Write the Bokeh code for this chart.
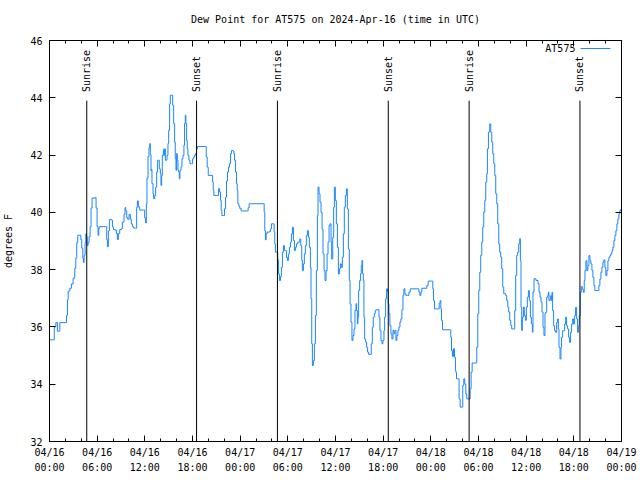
import math
from bokeh.plotting import figure
from bokeh.models import (FixedTicker, LinearAxis, Range1d, Label, Arrow, ColumnDataSource,
                          CustomLabelingPolicy)
from bokeh.core.properties import value
from bokeh.embed import file_html
from bokeh.resources import INLINE

# ---- data (hours since 2024-04-16 00:00 UTC, dew point in F) ----
hours = [
    0.04, 0.54, 0.6, 0.8, 1.0, 1.3, 2.05, 2.14, 2.26, 2.35, 2.56, 2.76, 2.97, 3.18, 3.31, 3.43, 3.56, 3.81,
    3.94, 4.06, 4.19, 4.27, 4.36, 4.48, 4.57, 4.65, 4.73, 4.86, 4.98, 5.11, 5.23, 5.36, 5.78, 5.86, 5.99,
    6.11, 6.2, 6.32, 7.08, 7.2, 7.29, 7.41, 7.54, 7.79, 7.92, 8.04, 8.25, 8.42, 8.54, 8.67, 8.84, 9.05,
    9.17, 9.38, 9.51, 9.59, 9.72, 9.84, 10.01, 10.18, 10.3, 10.43, 10.6, 10.85, 10.97, 11.06, 11.18,
    11.35, 11.85, 11.98, 12.1, 12.19, 12.27, 12.4, 12.52, 12.61, 12.69, 12.78,
    12.82, 12.9, 13.03, 13.11, 13.24, 13.36, 13.49, 13.61, 13.74, 13.82, 13.95, 14.03, 14.12, 14.2, 14.33,
    14.41, 14.49, 14.58, 14.7, 14.79, 14.91, 15.0, 15.12, 15.21, 15.42, 15.5, 15.63, 15.75, 15.83, 15.92,
    16.0, 16.09, 16.17, 16.25, 16.34, 16.42, 16.55, 16.67, 16.8, 16.92, 17.0, 17.09, 17.17, 17.26, 17.34,
    17.42, 17.55, 17.68, 17.89, 18.01, 18.14, 18.26, 18.39, 18.51, 18.64, 19.65, 19.73, 19.85, 19.98,
    20.44, 20.53, 20.61, 20.69, 21.2, 21.28, 21.41, 21.53, 21.61, 21.7, 21.91, 22.03, 22.16, 22.28, 22.41,
    22.53, 22.66, 22.79, 22.91, 23.08, 23.21, 23.29, 23.42, 23.54, 23.63, 23.71, 23.84, 23.96, 24.13,
    24.88, 25.0, 25.13,
    25.38, 26.93, 27.02, 27.1, 27.18, 27.27, 27.39, 27.69, 27.81, 27.94, 28.19, 28.27, 28.36, 28.44, 28.65,
    28.73, 28.82, 28.94, 29.07, 29.19, 29.32, 29.45, 29.57, 29.7, 29.82, 29.95, 30.07, 30.2, 30.33, 30.45,
    30.58, 30.7, 30.83, 30.95, 31.08, 31.25, 31.37, 31.5, 31.63, 31.75, 31.83, 31.96, 32.08, 32.21, 32.33,
    32.46, 32.59, 32.71, 32.84, 32.92, 33.01, 33.09, 33.22, 33.34, 33.47, 33.59, 33.72, 33.8, 33.93, 34.05,
    34.18, 34.31, 34.43, 34.56, 34.68, 34.81, 34.94, 35.06, 35.19, 35.31, 35.44, 35.52, 35.65, 35.77,
    35.86, 35.98, 36.11, 36.24, 36.36, 36.49, 36.61, 36.74, 36.86, 36.99, 37.11, 37.24, 37.37, 37.49,
    37.62, 37.74, 37.83,
    37.95, 38.07, 38.2, 38.33, 38.45, 38.58, 38.66, 38.75, 38.83, 38.91, 39.04, 39.16, 39.25, 39.33, 39.41,
    39.5, 39.58, 39.67, 39.79, 39.92, 40.04, 40.17, 40.38, 40.5, 40.63, 40.75, 40.88, 41.0, 41.13, 41.34,
    41.47, 41.59, 41.72, 41.85, 41.97, 42.1, 42.18, 42.31, 42.43, 42.56, 42.64, 42.73, 42.85, 42.98, 43.1,
    43.23, 43.35, 43.48, 43.61, 43.73, 43.86, 43.98, 44.11, 44.23, 44.36, 44.49, 44.61, 44.74, 44.86,
    45.07, 45.24, 45.41, 46.37, 46.5, 46.62, 46.75, 46.87, 47.37, 47.5, 47.67, 48.13, 48.25, 48.34, 48.46,
    48.92, 49.05, 49.17, 49.26, 49.34, 49.47, 50.43, 50.51, 50.6, 50.72, 50.85, 50.98, 51.1,
    51.14, 51.23, 51.48, 51.56, 51.69, 51.94, 52.02, 52.15, 52.27, 52.4, 52.52, 52.82, 52.95, 53.07, 53.2,
    53.7, 53.78, 53.91, 54.03, 54.16, 54.28, 54.41, 54.53, 54.66, 54.79, 54.91, 55.04, 55.12, 55.25, 55.42,
    55.54, 55.67, 55.79, 55.92, 56.05, 56.17, 56.3, 56.42, 56.55, 56.67, 56.8, 56.92, 57.05, 57.18, 57.3,
    57.43, 57.55, 57.68, 57.8, 57.93, 58.06, 58.18, 58.43, 58.56, 58.68, 58.81, 58.93, 59.06, 59.19, 59.27,
    59.35, 59.44, 59.52, 59.65, 59.77, 59.9, 60.02, 60.15, 60.28, 60.4, 60.53, 60.65, 60.78, 60.86, 60.99,
    61.11, 61.24, 61.36, 61.49, 61.62, 61.74, 61.87, 61.99, 62.12, 62.24, 62.37,
    62.45, 62.58, 62.7, 62.79, 62.87, 63.0, 63.08, 63.17, 63.25, 63.33, 63.46, 63.58, 63.71, 63.84, 63.96,
    64.05, 64.13, 64.26, 64.38, 64.46, 64.59, 64.71, 64.84, 64.97, 65.09, 65.22, 65.34, 65.47, 65.59,
    65.72, 65.85, 65.97, 66.1, 66.22, 66.35, 66.47, 66.6, 66.68, 66.81, 66.94, 67.06, 67.19, 67.31, 67.4,
    67.52, 67.65, 67.77, 67.9, 68.03, 68.15, 68.28, 68.4, 68.53, 68.65, 69.03, 69.15, 69.28, 69.41, 69.53,
    69.66, 69.78, 69.91, 70.03, 70.16, 70.29, 70.41, 70.54, 70.66, 70.79, 70.91, 71.04, 71.17, 71.29,
    71.42, 71.54, 71.67, 71.79, 71.92,
]
dewpoint = [
    35.55, 35.55, 36.0, 36.15, 35.85, 36.15, 36.15, 36.4, 36.95, 37.25, 37.35, 37.5, 37.7, 38.05, 38.4, 38.95, 39.2, 39.2,
    39.05, 38.75, 38.4, 38.25, 38.5, 38.95, 39.25, 39.15, 38.85, 38.95, 39.15, 39.5, 40.15, 40.5, 40.52, 40.15, 39.5,
    39.2, 39.45, 39.5, 39.5, 39.05, 38.8, 39.35, 39.75, 39.73, 39.5, 39.4, 39.38, 39.26, 39.05, 39.26, 39.4, 39.43,
    39.66, 39.93, 40.17, 40.05, 39.82, 39.76, 39.93, 39.76, 39.6, 39.5, 39.45, 39.45, 40.17, 40.4, 40.19,
    40.08, 40.08, 39.8, 39.63, 40.3, 41.2, 41.95, 42.25, 42.4, 42.02, 41.45,
    41.5, 41.0, 40.65, 40.48, 40.59, 40.88, 41.41, 41.82, 41.82, 41.52, 41.35, 40.94, 41.29, 41.99, 42.19,
    41.99, 42.22, 41.82, 41.82, 41.99, 42.4, 42.86, 43.79, 44.09, 44.09, 43.74, 43.1, 42.46, 41.87, 41.47,
    42.05, 41.82, 41.47, 41.41, 41.17, 41.47, 41.58, 41.87, 41.99, 42.34, 43.1, 43.39, 43.1, 42.51, 42.22,
    41.99, 41.82, 41.7, 41.7, 41.87, 41.93, 41.99, 42.05, 42.22, 42.3, 42.3, 41.93, 41.58, 41.29,
    41.29, 41.06, 40.77, 40.59, 40.59, 40.83, 40.71, 40.42, 40.07, 39.89, 39.89, 40.13, 40.53, 41.09, 41.41,
    41.58, 41.7, 42.05, 42.16, 42.14, 42.05, 41.82, 41.41, 41.0, 40.77, 40.3, 40.21, 40.13, 40.05,
    40.05, 40.16, 40.3,
    40.3, 40.3, 40.0, 39.36, 39.04, 39.25, 39.31, 39.33, 39.42, 39.6, 39.6, 39.31, 38.9, 38.61, 38.61,
    38.34, 37.85, 37.62, 37.76, 38.08, 38.61, 38.84, 38.67, 38.67, 38.43, 38.32, 38.55, 38.78, 38.96, 39.25,
    39.48, 39.02, 38.67, 38.78, 38.9, 38.96, 38.96, 39.07, 38.84, 38.32, 37.97, 38.2, 38.55, 38.84, 39.19,
    39.36, 39.13, 38.78, 38.08, 36.98, 35.41, 34.65, 34.82, 35.41, 36.4, 37.97, 39.89, 40.88, 40.65, 40.35,
    40.0, 39.42, 38.55, 37.97, 37.62, 37.97, 38.55, 38.96, 39.54, 39.6, 38.96, 38.37, 39.13, 40.18,
    40.88, 40.41, 39.6, 38.78, 37.85, 38.03, 38.2, 38.08, 38.43, 39.25, 40.18, 40.59, 40.82, 40.12,
    38.72, 37.62, 36.8,
    36.17, 35.53, 35.7, 35.93, 36.57, 36.81, 36.57, 36.11, 36.34, 37.27, 37.62, 37.86, 38.15, 38.32, 37.86,
    37.62, 36.34, 35.58, 35.47, 35.29, 35.12, 35.04, 35.04, 35.41, 35.99, 36.34, 36.46, 36.57, 36.6, 36.6,
    36.34, 35.88, 35.53, 35.41, 35.53, 35.88, 36.34, 36.98, 37.33, 37.22, 36.81, 36.46, 36.05, 35.76, 35.58,
    35.88, 35.76, 35.88, 35.53, 35.7, 35.88, 35.99, 36.17, 36.28, 36.6, 37.1, 37.33, 37.16, 37.1,
    37.1, 37.22, 37.33, 37.33, 37.22, 37.1, 37.22, 37.35, 37.35, 37.45, 37.6, 37.6, 37.33, 36.92, 36.63,
    36.63, 36.83, 36.92, 36.63, 36.23, 35.9, 35.9, 35.64, 35.18, 34.97, 35.24, 34.94, 34.48,
    34.42, 34.19, 34.19, 33.49, 33.2, 33.2, 33.96, 34.19, 34.01, 33.66, 33.49, 33.49, 33.84, 34.42, 34.74,
    34.74, 35.29, 36.46, 37.27, 37.91, 38.5, 38.96, 39.49, 40.01, 40.42, 41.06, 41.35, 42.22, 42.8, 43.09,
    42.8, 42.45, 42.05, 41.7, 41.29, 40.65, 40.3, 39.6, 38.9, 38.61, 38.44, 38.03, 37.39, 37.16, 37.16,
    37.1, 36.92, 36.69, 36.52, 36.23, 36.05, 35.93, 35.93, 36.57, 37.8, 38.5, 38.61, 38.9, 39.08, 38.32,
    36.69, 35.88, 36.34, 36.69, 36.4, 36.23, 36.69, 37.04, 37.27, 36.92, 36.34, 36.11, 35.82, 37.22, 37.68,
    37.68, 37.62, 37.62, 37.51, 37.22, 37.04, 36.87, 36.52, 35.99, 35.7, 36.46,
    36.51, 37.03, 37.09, 37.21, 36.92, 36.98, 37.09, 36.92, 37.21, 36.57, 36.04, 35.87, 35.81, 36.16, 36.28,
    35.93, 35.29, 34.88, 35.29, 35.64, 35.87, 35.87, 36.1, 36.34, 36.04, 35.93, 35.64, 35.46, 35.81,
    36.1, 36.28, 36.1, 36.39, 36.68, 36.28, 35.81, 36.04, 36.39, 37.21, 37.41, 37.32, 37.21, 37.62, 37.97,
    38.31, 37.97, 38.14, 38.49, 38.31, 38.2, 37.97, 37.73, 37.44, 37.27, 37.27, 37.44, 37.67, 37.91, 38.08,
    38.26, 38.34, 38.08, 37.79, 37.97, 38.31, 38.43, 38.49, 38.55, 38.66, 38.78, 39.01, 39.19, 39.36,
    39.6, 39.77, 39.94, 40.06, 40.12,
]

event_hours = [4.69, 18.51, 28.69, 42.64, 52.82, 66.77]
event_names = ["Sunrise", "Sunset", "Sunrise", "Sunset", "Sunrise", "Sunset"]

x_ticks = [0, 6, 12, 18, 24, 30, 36, 42, 48, 54, 60, 66, 72]
x_minor = list(range(0, 73, 2))
x_labels = ["04/16\n00:00", "04/16\n06:00", "04/16\n12:00", "04/16\n18:00",
            "04/17\n00:00", "04/17\n06:00", "04/17\n12:00", "04/17\n18:00",
            "04/18\n00:00", "04/18\n06:00", "04/18\n12:00", "04/18\n18:00",
            "04/19\n00:00"]
y_ticks = [32, 34, 36, 38, 40, 42, 44, 46]

FONT = "DejaVu Sans Mono"
BLUE = "#1a86ff"

p = figure(width=640, height=480, output_backend="svg", toolbar_location=None,
           x_range=Range1d(0, 72), y_range=Range1d(32, 46),
           min_border_left=48, min_border_right=19, min_border_top=40, min_border_bottom=39,
           title="Dew Point for AT575 on 2024-Apr-16 (time in UTC)")
p.title.align = "center"
p.title.text_font = FONT
p.title.text_font_size = "10px"
p.title.text_font_style = "normal"
p.title.text_color = "black"
p.title.standoff = 10
p.outline_line_color = "black"
p.outline_line_width = 1
p.outline_line_alpha = 1
p.xgrid.grid_line_color = None
p.ygrid.grid_line_color = None
p.background_fill_color = "white"
p.border_fill_color = "white"

no_labels = CustomLabelingPolicy(code="return new Set()")
p.add_layout(LinearAxis(major_label_policy=no_labels), "above")
p.add_layout(LinearAxis(major_label_policy=no_labels), "right")

for ax in p.xaxis:
    ax.ticker = FixedTicker(ticks=x_ticks, minor_ticks=x_minor)
for ax in p.yaxis:
    ax.ticker = FixedTicker(ticks=y_ticks, minor_ticks=[])
for ax in list(p.xaxis) + list(p.yaxis):
    ax.major_tick_in = 6
    ax.major_tick_out = 0
    ax.minor_tick_in = 3
    ax.minor_tick_out = 0
    ax.axis_line_color = "black"
    ax.major_tick_line_color = "black"
    ax.minor_tick_line_color = "black"
    ax.major_label_text_font = FONT
    ax.major_label_text_font_size = "10px"
    ax.major_label_text_color = "black"

p.below[0].major_label_standoff = 5
p.left[0].major_label_standoff = 7
p.above[-1].major_label_standoff = 0
p.right[-1].major_label_standoff = 0

p.below[0].major_label_overrides = {t: s for t, s in zip(x_ticks, x_labels)}
p.below[0].major_label_text_line_height = 1.4
p.left[0].axis_label = "degrees F"
p.left[0].axis_label_text_font = FONT
p.left[0].axis_label_text_font_size = "10px"
p.left[0].axis_label_text_font_style = "normal"
p.left[0].axis_label_text_color = "black"
p.left[0].axis_label_standoff = 13

src = ColumnDataSource(dict(x=hours, y=dewpoint))
p.step(x="x", y="y", source=src, mode="after", line_color=BLUE, line_width=1)

ev = ColumnDataSource(dict(x=event_hours, name=event_names,
                           y0=[32] * len(event_hours), y1=[43.9] * len(event_hours),
                           ty=[44.2] * len(event_hours)))
p.segment(x0="x", y0="y0", x1="x", y1="y1", source=ev, line_color="black", line_width=1)
p.text(x="x", y="ty", text="name", source=ev, angle=math.pi / 2,
       text_align="left", text_baseline="middle",
       text_font=value(FONT), text_font_size="10px", text_color="black")

# legend (label left, sample line right, like the original)
p.add_layout(Label(x=66.2, y=45.72, text="AT575", text_align="right", text_baseline="middle",
                   text_font=FONT, text_font_size="10px", text_color="black"))
p.add_layout(Arrow(end=None, x_start=66.85, y_start=45.72, x_end=70.6, y_end=45.72,
                   line_color=BLUE, line_width=1))

open("out.html", "w").write(file_html(p, INLINE))
